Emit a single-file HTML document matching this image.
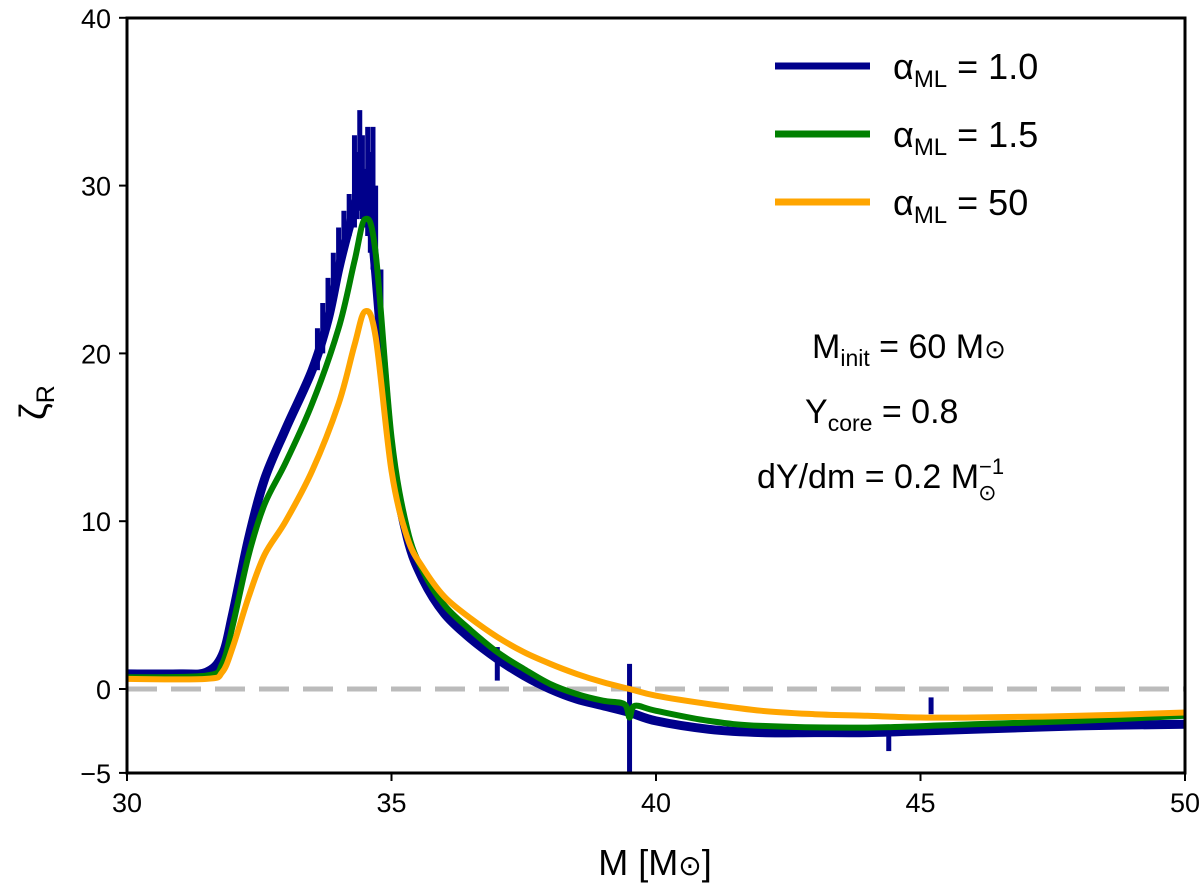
<!DOCTYPE html>
<html><head><meta charset="utf-8"><style>
body{margin:0;background:#fff;}
svg{font-family:"Liberation Sans","DejaVu Sans",sans-serif;}
</style></head><body>
<svg id="chart" width="1200" height="890">
<g id="plot"></g>
<rect x="127" y="18" width="1058" height="755" fill="none" stroke="#000" stroke-width="3"/>
<g id="axes"></g>
<g>
<line x1="775" y1="66" x2="870" y2="66" stroke="#00008b" stroke-width="7"/>
<text x="893" y="79" font-size="36">α<tspan font-size="24" dy="8">ML</tspan><tspan dy="-8"> = 1.0</tspan></text>
<line x1="775" y1="134" x2="870" y2="134" stroke="#008000" stroke-width="7"/>
<text x="893" y="147" font-size="36">α<tspan font-size="24" dy="8">ML</tspan><tspan dy="-8"> = 1.5</tspan></text>
<line x1="775" y1="202" x2="870" y2="202" stroke="#ffa500" stroke-width="7"/>
<text x="893" y="215" font-size="36">α<tspan font-size="24" dy="8">ML</tspan><tspan dy="-8"> = 50</tspan></text>
</g>
<text x="812" y="358" font-size="34">M<tspan font-size="23" dy="8">init</tspan><tspan dy="-8"> =  60 M</tspan><tspan font-size="26">⊙</tspan></text>
<text x="805" y="423" font-size="34">Y<tspan font-size="23" dy="8">core</tspan><tspan dy="-8"> =  0.8</tspan></text>
<text x="757" y="488" font-size="34">dY/dm = 0.2 M<tspan font-size="22" dy="-14">−1</tspan><tspan font-size="22" dx="-26" dy="26">⊙</tspan></text>
<text x="655" y="875" font-size="36" text-anchor="middle">M [M<tspan font-size="28">⊙</tspan>]</text>
<text x="0" y="0" font-size="38" transform="translate(46,420) rotate(-90)">ζ<tspan font-size="25" dy="8">R</tspan></text>
</svg>
<script>
const xTicks=[30,35,40,45,50];
const yTicks=[-5,0,10,20,30,40];
const blueX=[30,31,31.5,31.8,32,32.3,32.6,33,33.5,33.8,34,34.2,34.4,34.6,34.8,35,35.3,35.6,36,36.5,37,37.5,38,38.5,39,39.5,40,41,42,43,44,45,46,48,50];
const blueY=[0.9,0.9,1.0,2,4.5,9,12.5,15.5,19,22,25,27.5,29.5,28,21,14,9,6.5,4.5,3,1.8,0.8,0,-0.6,-1,-1.4,-1.9,-2.4,-2.6,-2.6,-2.6,-2.5,-2.4,-2.2,-2.1];
const spikeX=[33.6,33.7,33.8,33.9,34.0,34.1,34.2,34.3,34.35,34.4,34.45,34.5,34.55,34.6,34.65,34.7,34.8,37,39.5,44.4,45.2];
const spikeLo=[19,20,21.5,23,24.5,26,27,27.5,28,28.5,28,27.5,27,26,25,24,21,0.5,-5,-3.7,-1.5];
const spikeHi=[21.5,23,24.5,26,27.5,28.5,29.5,33,32,34.5,33,31,33.5,32,33.5,30,25,2.5,1.5,-2.5,-0.5];
const greenX=[30,31.5,31.8,32,32.3,32.6,33,33.5,34,34.3,34.5,34.7,35,35.3,35.6,36,36.5,37,37.5,38,38.5,39,39.4,39.5,39.6,40,41,42,44,46,48,50];
const greenY=[0.7,0.8,1.5,3.8,8,11,13.5,17,21.5,25.5,28,26,15,9.5,7,5,3.5,2.2,1.2,0.3,-0.3,-0.7,-0.9,-1.7,-1,-1.3,-1.9,-2.2,-2.3,-2.1,-1.9,-1.6];
const orangeX=[30,31.5,31.8,32,32.3,32.6,33,33.5,34,34.3,34.5,34.7,35,35.3,35.6,36,36.5,37,37.5,38,38.5,39,39.5,40,41,42,43,44,45,46,48,50];
const orangeY=[0.6,0.6,1,2.5,5.5,8,10,13,17,20.5,22.5,21,13,9,7.2,5.5,4.2,3.1,2.2,1.5,0.9,0.4,0,-0.4,-0.9,-1.3,-1.5,-1.6,-1.7,-1.7,-1.6,-1.4];
const NS="http://www.w3.org/2000/svg";
const sx=v=>127+(v-30)*52.9;
const sy=v=>689-v*16.78;
const plot=document.getElementById('plot'),axes=document.getElementById('axes');
function mk(tag,attrs,parent){const e=document.createElementNS(NS,tag);for(const k in attrs)e.setAttribute(k,attrs[k]);parent.appendChild(e);return e;}
const dash=mk('line',{x1:127,x2:1185,y1:sy(0),y2:sy(0),stroke:'#bbb','stroke-width':5,'stroke-dasharray':'30 14'},plot);


function line(xs,ys,color,w,name){
 const P=xs.map((x,i)=>[sx(x),sy(ys[i])]);
 let d='M'+P[0][0].toFixed(1)+','+P[0][1].toFixed(1);
 for(let i=0;i<P.length-1;i++){
  const p0=P[Math.max(0,i-1)],p1=P[i],p2=P[i+1],p3=P[Math.min(P.length-1,i+2)];
  const c1=[p1[0]+(p2[0]-p0[0])/6,p1[1]+(p2[1]-p0[1])/6];
  const c2=[p2[0]-(p3[0]-p1[0])/6,p2[1]-(p3[1]-p1[1])/6];
  d+=' C'+c1.map(v=>v.toFixed(1)).join(',')+' '+c2.map(v=>v.toFixed(1)).join(',')+' '+p2.map(v=>v.toFixed(1)).join(',');
 }
 const p=mk('path',{d:d,fill:'none',stroke:color,'stroke-width':w,'stroke-linejoin':'round'},plot);
 
 
}
line(blueX,blueY,'#00008b',9,'series-alpha-1.0');
spikeX.forEach((x,i)=>{
 const s=mk('line',{x1:sx(x),x2:sx(x),y1:sy(spikeLo[i]),y2:sy(spikeHi[i]),stroke:'#00008b','stroke-width':5},plot);
 
 
});
line(greenX,greenY,'#008000',6,'series-alpha-1.5');
line(orangeX,orangeY,'#ffa500',6,'series-alpha-50');
xTicks.forEach(t=>{
 const tk=mk('line',{x1:sx(t),x2:sx(t),y1:773,y2:781,stroke:'#000','stroke-width':2},axes);
 
 
 const tx=mk('text',{x:sx(t),y:812,'font-size':27,'text-anchor':'middle'},axes);tx.textContent=t;
 
 
});
yTicks.forEach(t=>{
 const tk=mk('line',{x1:119,x2:127,y1:sy(t),y2:sy(t),stroke:'#000','stroke-width':2},axes);
 
 
 const tx=mk('text',{x:111,y:sy(t)+10,'font-size':27,'text-anchor':'end'},axes);tx.textContent=(t<0?'−'+(-t):t);
 
 
});
</script>
</body></html>
